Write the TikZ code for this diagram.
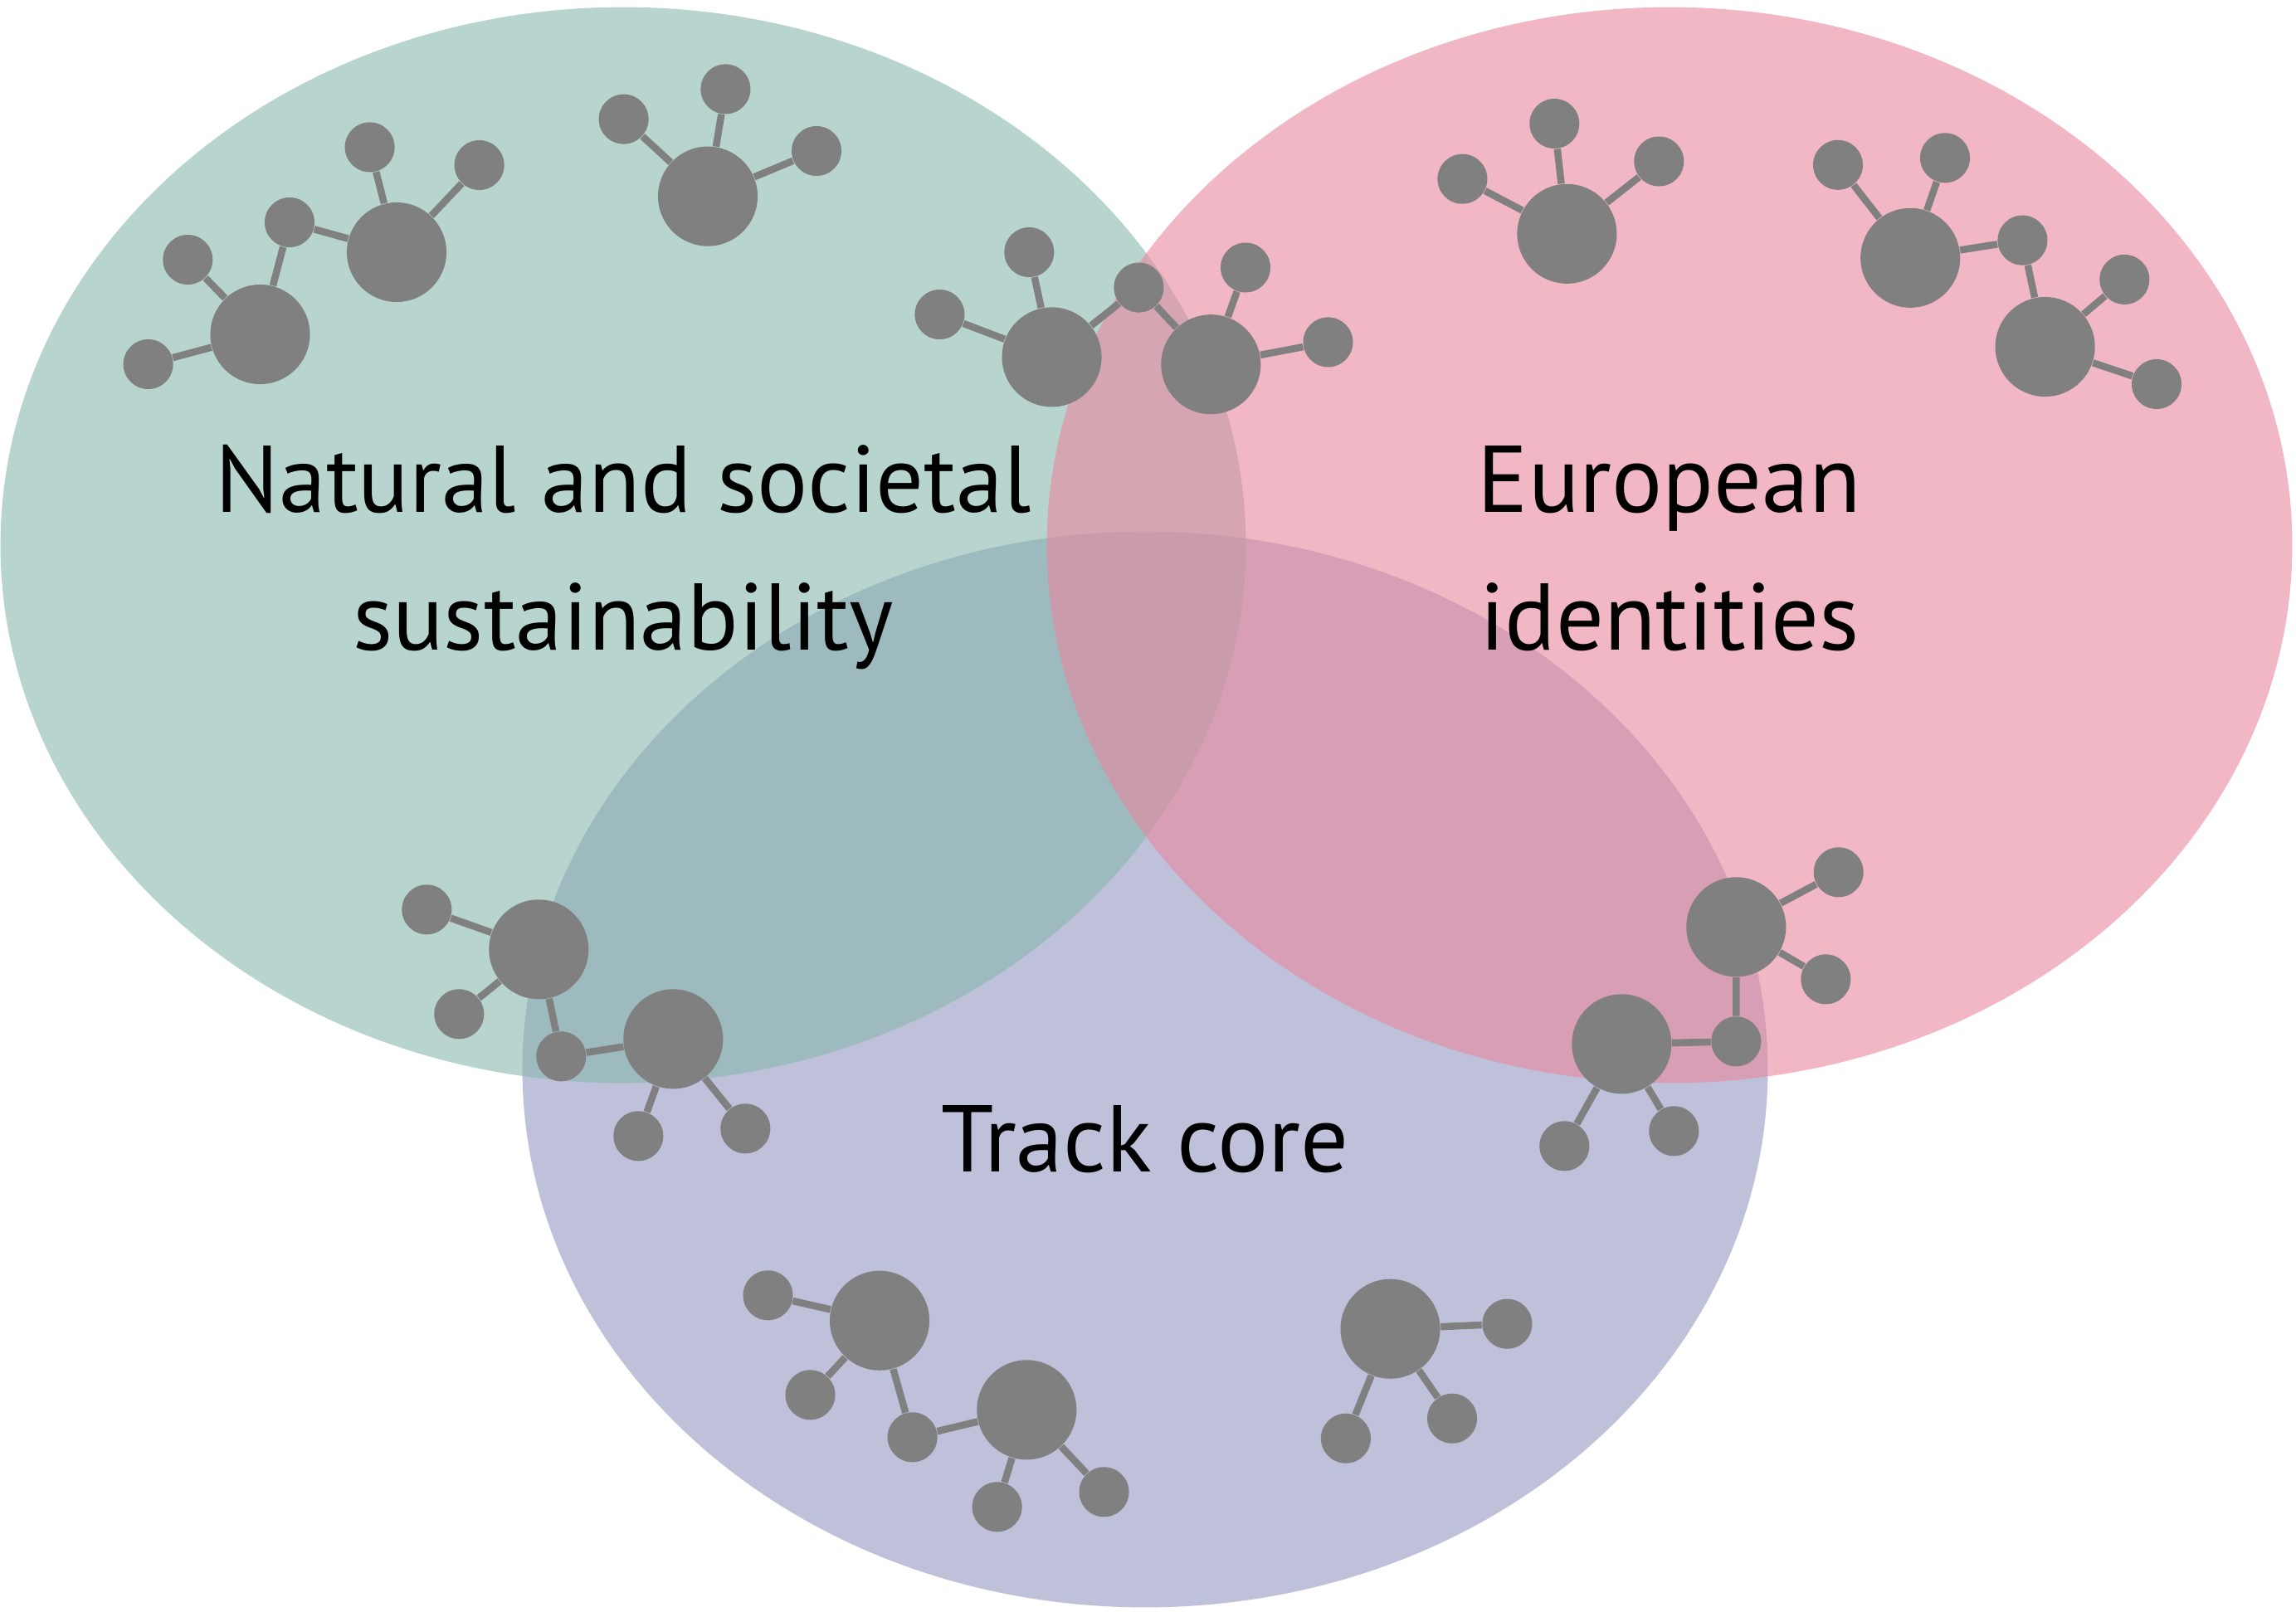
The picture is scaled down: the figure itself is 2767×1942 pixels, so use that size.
\documentclass[tikz,border=0pt]{standalone}
\usepackage{fontspec}
\setmainfont{PT Sans}
\definecolor{greenC}{HTML}{87B7AD}
\definecolor{pinkC}{HTML}{E9879F}
\definecolor{blueC}{HTML}{9496C1}
\definecolor{molC}{HTML}{808080}
\tikzset{
  bigatom/.style={circle, fill=molC, inner sep=0pt, minimum size=1.2cm},
  smallatom/.style={circle, fill=molC, inner sep=0pt, minimum size=0.6cm},
  bond/.style={draw=molC, line width=0.085cm},
  region/.style={fill opacity=0.6},
  label/.style={font=\fontsize{32.5}{47.2}\selectfont, align=center, anchor=base, text=black, inner sep=0pt}
}
\begin{document}
\begin{tikzpicture}[x=0.01cm, y=-0.01cm]
\useasboundingbox (0,0) rectangle (2767,1942);
% regions
\fill[blueC, region] (1380,1289) ellipse [x radius=7.5cm, y radius=6.48cm];
\fill[greenC, region] (751,657) ellipse [x radius=7.5cm, y radius=6.48cm];
\fill[pinkC, region] (2012,657) ellipse [x radius=7.5cm, y radius=6.48cm];

% texts (base anchor = baseline of the last line)
\node[label] (tgreen) at (751,783.3) {Natural and societal\\sustainability};
\node[label] (tpink) at (2012,783) {European\\identities};
\node[label] (tblue) at (1380,1412.7) {Track core};

% molecule A
\node[bigatom] (a1) at (313.5,403) {};
\node[smallatom] (a2) at (178.6,439) {};
\node[smallatom] (a3) at (226.3,313) {};
\node[smallatom] (a4) at (349,268) {};
\node[bigatom] (a5) at (478,304) {};
\node[smallatom] (a6) at (445.6,177.4) {};
\node[smallatom] (a7) at (577.6,199) {};
\draw[bond] (a1) -- (a2) (a1) -- (a3) (a1) -- (a4) (a4) -- (a5) (a5) -- (a6) (a5) -- (a7);
% molecule B
\node[bigatom] (b1) at (853,236.6) {};
\node[smallatom] (b2) at (751.6,143.6) {};
\node[smallatom] (b3) at (874.4,107.4) {};
\node[smallatom] (b4) at (984,182) {};
\draw[bond] (b1) -- (b2) (b1) -- (b3) (b1) -- (b4);
% molecule C
\node[bigatom] (c1) at (1267.5,430.4) {};
\node[smallatom] (c2) at (1132.4,379) {};
\node[smallatom] (c3) at (1240.3,304) {};
\node[smallatom] (c4) at (1372.4,346.6) {};
\node[bigatom] (c5) at (1459.3,439.2) {};
\node[smallatom] (c6) at (1501,322.5) {};
\node[smallatom] (c7) at (1600.5,412.4) {};
\draw[bond] (c1) -- (c2) (c1) -- (c3) (c1) -- (c4) (c4) -- (c5) (c5) -- (c6) (c5) -- (c7);
% molecule D
\node[bigatom] (d1) at (1888.4,281.8) {};
\node[smallatom] (d2) at (1762.4,215.7) {};
\node[smallatom] (d3) at (1873.3,149) {};
\node[smallatom] (d4) at (1999.3,194.5) {};
\draw[bond] (d1) -- (d2) (d1) -- (d3) (d1) -- (d4);
% molecule E
\node[bigatom] (e1) at (2302.2,310.8) {};
\node[smallatom] (e2) at (2215,198.8) {};
\node[smallatom] (e3) at (2344,190.3) {};
\node[smallatom] (e4) at (2437.4,289.6) {};
\node[bigatom] (e5) at (2464.6,418) {};
\node[smallatom] (e6) at (2560.3,336.9) {};
\node[smallatom] (e7) at (2599,463) {};
\draw[bond] (e1) -- (e2) (e1) -- (e3) (e1) -- (e4) (e4) -- (e5) (e5) -- (e6) (e5) -- (e7);
% molecule F
\node[bigatom] (f1) at (649.3,1144.3) {};
\node[smallatom] (f2) at (514.3,1096.3) {};
\node[smallatom] (f3) at (553.3,1222.3) {};
\node[smallatom] (f4) at (676.3,1273.3) {};
\node[bigatom] (f5) at (811.3,1252.3) {};
\node[smallatom] (f6) at (769.3,1369.3) {};
\node[smallatom] (f7) at (898.3,1360.3) {};
\draw[bond] (f1) -- (f2) (f1) -- (f3) (f1) -- (f4) (f4) -- (f5) (f5) -- (f6) (f5) -- (f7);
% molecule G
\node[bigatom] (g1) at (2092.3,1117.3) {};
\node[smallatom] (g2) at (2215.7,1051.3) {};
\node[smallatom] (g3) at (2200.3,1180.3) {};
\node[smallatom] (g4) at (2092.3,1255.3) {};
\node[bigatom] (g5) at (1954.3,1258.3) {};
\node[smallatom] (g6) at (1885.3,1381.3) {};
\node[smallatom] (g7) at (2017.3,1363.3) {};
\draw[bond] (g1) -- (g2) (g1) -- (g3) (g1) -- (g4) (g4) -- (g5) (g5) -- (g6) (g5) -- (g7);
% molecule H
\node[bigatom] (h1) at (1060,1591.7) {};
\node[smallatom] (h2) at (925.5,1561.3) {};
\node[smallatom] (h3) at (976.5,1681.3) {};
\node[smallatom] (h4) at (1099.6,1732.3) {};
\node[bigatom] (h5) at (1237.3,1699.3) {};
\node[smallatom] (h6) at (1201.6,1816.3) {};
\node[smallatom] (h7) at (1330.5,1798.3) {};
\draw[bond] (h1) -- (h2) (h1) -- (h3) (h1) -- (h4) (h4) -- (h5) (h5) -- (h6) (h5) -- (h7);
% molecule I
\node[bigatom] (i1) at (1675.5,1601.7) {};
\node[smallatom] (i2) at (1816.4,1595.7) {};
\node[smallatom] (i3) at (1621.9,1733.7) {};
\node[smallatom] (i4) at (1750,1709.7) {};
\draw[bond] (i1) -- (i2) (i1) -- (i3) (i1) -- (i4);
\end{tikzpicture}
\end{document}
